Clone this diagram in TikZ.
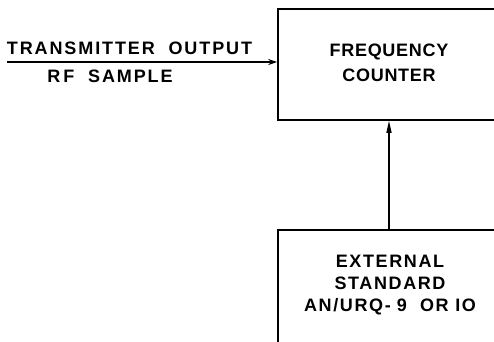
\documentclass[tikz,border=0pt]{standalone}
\usepackage{fontspec}
\setmainfont{Liberation Sans}
\newfontfamily\boxfont{Liberation Sans}[LetterSpace=4]
\newfontfamily\widefont{Liberation Sans}[LetterSpace=9]
\newfontfamily\widerfont{Liberation Sans}[LetterSpace=10.5]
\usetikzlibrary{arrows.meta}
\tikzset{
  lbl/.style={align=center, inner sep=0pt},
  blk/.style={draw, line width=1.6pt, minimum width=222pt, minimum height=111pt},
  conn/.style={line width=1.3pt},
}
\begin{document}
\begin{tikzpicture}[x=1pt,y=-1pt]
\useasboundingbox (0,0) rectangle (494,341);
\clip (0,0) rectangle (494,341);
\node[blk] (fc) at (389,64.5) {};
\node[blk, minimum height=113pt] (ext) at (389,286.5) {};
\node[lbl, font=\bfseries\boxfont\fontsize{18}{25}\selectfont] (fct) at (389,62.5) {FREQUENCY\\COUNTER};
\node[lbl, font=\bfseries\widefont\fontsize{18}{22}\selectfont] (extt) at (390,285.5) {EXTERNAL\\STANDARD\\AN/URQ-\,\,9 \ OR IO};
\coordinate (in) at (7,62);
\draw[conn, -{Stealth[length=9pt,width=6pt,open]}] (in) -- (fc.west |- in);
\draw[conn, -{Triangle[length=12pt,width=5pt]}] (ext.north -| fc.south) -- (fc.south);
\node[lbl, font=\bfseries\widerfont\fontsize{18}{18}\selectfont] (t1) at (129.5,48.5) {TRANSMITTER \ OUTPUT};
\node[lbl, font=\bfseries\widerfont\fontsize{18}{18}\selectfont] (t2) at (110,76) {R\,F \ SAMPLE};
\end{tikzpicture}
\end{document}
